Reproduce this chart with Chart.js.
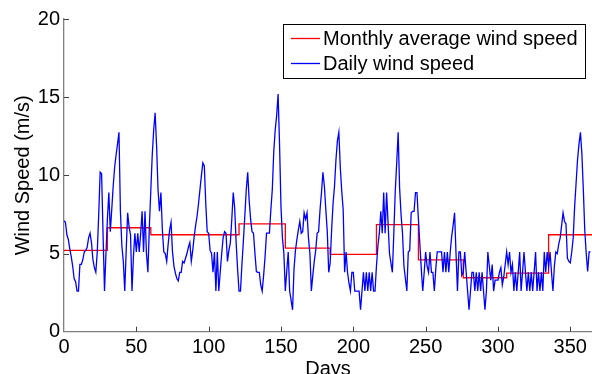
<!DOCTYPE html>
<html>
<head>
<meta charset="utf-8">
<script src="https://cdn.jsdelivr.net/npm/chart.js@4/dist/chart.umd.min.js"></script>
<style>
  html, body { margin: 0; padding: 0; background: #fff; overflow: hidden; }
</style>
</head>
<body>
<canvas id="windChart" width="592" height="374"></canvas>
<script>
// daily wind speed (m/s), day 0 .. 364
const dailySpeed = [
  7.1, 7.0, 6.2, 5.9, 5.3, 4.8, 4.2, 3.4, 3.2, 2.6,
  2.6, 4.3, 4.3, 4.6, 5.1, 5.2, 5.4, 6.0, 6.3, 5.7,
  4.6, 4.1, 3.8, 5.1, 7.5, 10.2, 10.1, 6.2, 2.6, 5.0,
  7.2, 8.9, 6.4, 7.8, 9.3, 10.5, 11.3, 12.0, 12.75, 7.7,
  5.5, 4.5, 2.6, 5.2, 7.6, 6.7, 6.2, 2.6, 4.8, 6.3,
  5.1, 6.3, 5.1, 6.3, 7.7, 5.1, 7.7, 5.0, 3.8, 6.7,
  9.0, 11.3, 12.9, 14.0, 11.9, 9.1, 7.7, 8.9, 6.5, 5.1,
  5.0, 4.5, 5.6, 6.5, 7.0, 5.1, 4.2, 3.75, 3.4, 3.25,
  3.8, 3.8, 4.5, 4.4, 4.7, 5.0, 5.4, 5.7, 4.5, 5.2,
  6.1, 6.8, 7.4, 8.2, 9.1, 10.0, 10.8, 10.6, 8.2, 6.4,
  6.3, 5.2, 5.0, 3.8, 5.1, 2.6, 5.1, 2.6, 3.8, 5.0,
  6.0, 6.4, 6.3, 4.5, 5.2, 5.7, 7.2, 8.9, 7.9, 5.7,
  4.0, 2.6, 2.6, 4.3, 5.8, 7.4, 9.1, 10.2, 8.4, 7.2,
  6.4, 6.3, 5.0, 3.85, 3.8, 3.8, 3.0, 2.6, 3.6, 4.8,
  6.3, 6.3, 6.3, 7.8, 9.1, 11.5, 12.9, 13.8, 15.2, 12.0,
  8.0, 6.0, 5.0, 2.6, 3.9, 5.1, 2.6, 2.0, 1.4, 4.0,
  5.2, 5.9, 6.5, 7.05, 6.3, 6.4, 7.6, 7.2, 7.6, 6.0,
  5.0, 2.6, 3.6, 4.5, 5.2, 6.3, 6.4, 7.8, 8.9, 10.2,
  9.3, 7.8, 6.4, 3.8, 4.4, 6.5, 8.2, 9.3, 11.0, 12.2,
  12.75, 10.5, 9.0, 7.8, 3.8, 5.1, 3.8, 3.1, 2.6, 3.8,
  3.8, 2.6, 2.6, 2.6, 2.6, 1.4, 2.6, 3.8, 2.6, 3.8,
  2.6, 3.8, 2.6, 3.8, 2.6, 2.6, 4.2, 5.5, 6.3, 7.7,
  6.3, 8.9, 6.3, 8.9, 7.0, 5.0, 4.4, 3.8, 6.3, 9.0,
  10.8, 12.75, 9.2, 7.5, 6.3, 4.2, 3.4, 2.6, 5.1, 5.2,
  7.6, 7.7, 7.7, 8.9, 8.9, 7.2, 5.6, 4.0, 2.6, 3.8,
  5.1, 4.2, 3.8, 5.1, 3.8, 3.8, 2.6, 4.0, 5.1, 5.1,
  5.1, 5.1, 3.8, 5.1, 3.8, 5.1, 3.8, 5.1, 6.1, 6.8,
  7.6, 5.0, 2.6, 5.1, 5.1, 3.6, 3.8, 5.1, 3.8, 2.6,
  1.4, 2.6, 3.8, 3.8, 2.6, 3.8, 2.6, 3.8, 2.6, 3.8,
  2.6, 1.4, 2.6, 5.1, 4.2, 3.3, 4.3, 2.6, 3.3, 3.3,
  3.3, 3.8, 4.1, 3.0, 3.5, 4.3, 5.1, 4.3, 5.1, 3.8,
  4.3, 2.6, 3.8, 2.6, 3.8, 5.1, 2.6, 3.8, 5.1, 3.8,
  2.6, 3.8, 2.6, 3.8, 2.6, 3.8, 5.1, 2.6, 3.8, 2.6,
  3.8, 2.6, 5.1, 3.8, 5.1, 4.2, 5.1, 3.8, 2.6, 4.2,
  5.1, 5.0, 5.6, 6.0, 6.8, 7.6, 7.05, 6.9, 4.7, 4.5,
  4.4, 5.1, 6.0, 8.0, 9.5, 11.0, 12.0, 12.75, 11.4, 9.1,
  6.5, 5.0, 3.85, 5.1, 5.1
];

// monthly averages, each held from its start day to the next one
const monthStarts = [0, 30, 60, 90, 121, 153, 184, 216, 245, 276, 306, 335, 365];
const monthlyAvg = [5.2, 6.65, 6.2, 6.2, 6.9, 5.35, 4.95, 6.85, 4.6, 3.45, 3.75, 6.2];

const xTicks = [0, 50, 100, 150, 200, 250, 300, 350];
const yTicks = [0, 5, 10, 15, 20];

const FONT = "'Liberation Sans', Arial, Helvetica, sans-serif";

const dailyPoints = dailySpeed.map((v, i) => ({ x: i, y: v }));
const monthlyPoints = monthStarts.map((d, i) => ({
  x: d,
  y: monthlyAvg[Math.min(i, monthlyAvg.length - 1)],
}));

// MATLAB-ish inward tick marks
const innerTicks = {
  id: "innerTicks",
  afterDraw(chart) {
    const { ctx, chartArea, scales } = chart;
    ctx.save();
    ctx.strokeStyle = "#404040";
    ctx.lineWidth = 1;
    xTicks.forEach((v) => {
      if (v === 0) return;
      const px = Math.round(scales.x.getPixelForValue(v)) + 0.5;
      ctx.beginPath();
      ctx.moveTo(px, chartArea.bottom);
      ctx.lineTo(px, chartArea.bottom - 5);
      ctx.stroke();
    });
    yTicks.forEach((v) => {
      if (v === 0) return;
      const py = Math.round(scales.y.getPixelForValue(v)) + 0.5;
      ctx.beginPath();
      ctx.moveTo(chartArea.left, py);
      ctx.lineTo(chartArea.left + 5, py);
      ctx.stroke();
    });
    ctx.restore();
  },
};

// boxed legend in the upper right corner
const boxLegend = {
  id: "boxLegend",
  afterDraw(chart) {
    const ctx = chart.ctx;
    const sets = chart.data.datasets;
    const box = { x: 283.5, y: 24.5, w: 302, h: 54 };
    ctx.save();
    ctx.fillStyle = "#fff";
    ctx.fillRect(box.x, box.y, box.w, box.h);
    ctx.strokeStyle = "#000";
    ctx.lineWidth = 1;
    ctx.strokeRect(box.x, box.y, box.w, box.h);
    ctx.font = "20px " + FONT;
    ctx.textBaseline = "middle";
    ctx.fillStyle = "#000";
    sets.forEach((ds, i) => {
      const y = 38.5 + i * 25;
      ctx.strokeStyle = ds.borderColor;
      ctx.lineWidth = 1.3;
      ctx.beginPath();
      ctx.moveTo(291, y);
      ctx.lineTo(320, y);
      ctx.stroke();
      ctx.fillText(ds.label, 323, y + 1);
    });
    ctx.restore();
  },
};

new Chart(document.getElementById("windChart"), {
  type: "line",
  data: {
    datasets: [
      {
        label: "Monthly average wind speed",
        data: monthlyPoints,
        borderColor: "#ff0000",
        borderWidth: 1.3,
        pointRadius: 0,
        stepped: "before",
        order: 2,
      },
      {
        label: "Daily wind speed",
        data: dailyPoints,
        borderColor: "#0000ff",
        borderWidth: 1.3,
        pointRadius: 0,
        tension: 0,
        order: 1,
      },
    ],
  },
  options: {
    responsive: false,
    devicePixelRatio: 1,
    animation: false,
    layout: { padding: { top: 19, left: 0, right: 0, bottom: 0 } },
    scales: {
      x: {
        type: "linear",
        min: 0,
        max: 365,
        afterBuildTicks: (s) => { s.ticks = xTicks.map((v) => ({ value: v })); },
        afterFit: (s) => { s.height = 42.3; },
        ticks: {
          color: "#000",
          padding: 4,
          maxRotation: 0,
          font: { size: 20, family: FONT },
        },
        grid: { display: false, drawTicks: false },
        border: { display: true, color: "#808080", width: 1.3 },
        title: {
          display: true,
          text: "Days",
          color: "#000",
          font: { size: 20, family: FONT, lineHeight: 1 },
          padding: { top: 0, bottom: -5.5 },
        },
      },
      y: {
        min: 0,
        max: 20,
        afterBuildTicks: (s) => { s.ticks = yTicks.map((v) => ({ value: v })); },
        afterFit: (s) => { s.width = 64; },
        ticks: {
          color: "#000",
          padding: 4,
          font: { size: 20, family: FONT },
        },
        grid: { display: false, drawTicks: false },
        border: { display: true, color: "#808080", width: 1.3 },
        title: {
          display: true,
          text: "Wind Speed (m/s)",
          color: "#000",
          font: { size: 20, family: FONT },
          padding: { top: 11, bottom: 0 },
        },
      },
    },
    plugins: {
      legend: { display: false },
      tooltip: { enabled: false },
    },
  },
  plugins: [innerTicks, boxLegend],
});
</script>
</body>
</html>
